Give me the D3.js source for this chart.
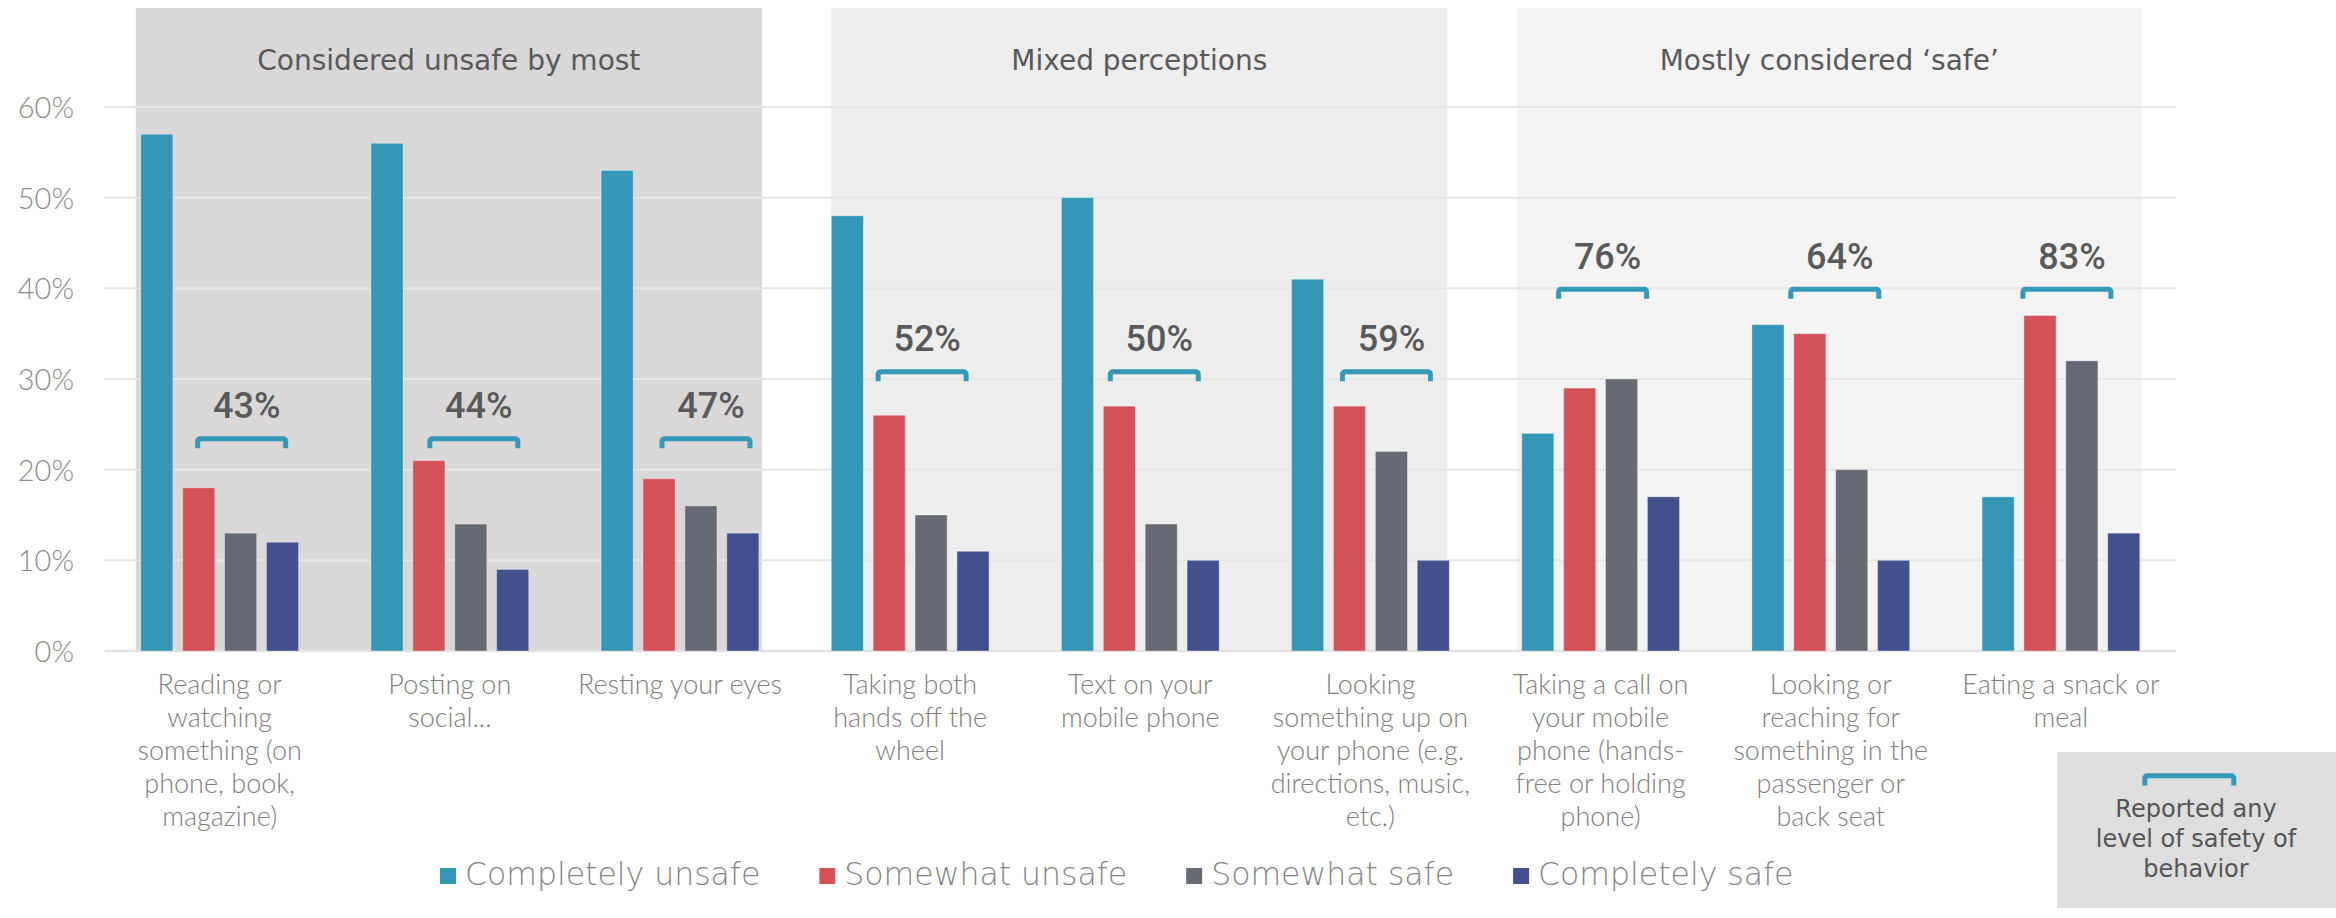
<!DOCTYPE html>
<html>
<head>
<meta charset="utf-8">
<script src="https://cdn.jsdelivr.net/npm/d3@7"></script>
<style>
  html, body { margin: 0; padding: 0; background: #ffffff; }
  svg { display: block; }
</style>
</head>
<body>
<svg id="chart" width="2336" height="918"></svg>
<script>
// ---------------- DATA ----------------
const categories = [
  "Reading or watching something (on phone, book, magazine)",
  "Posting on social...",
  "Resting your eyes",
  "Taking both hands off the wheel",
  "Text on your mobile phone",
  "Looking something up on your phone (e.g. directions, music, etc.)",
  "Taking a call on your mobile phone (hands-free or holding phone)",
  "Looking or reaching for something in the passenger or back seat",
  "Eating a snack or meal"
];
const categoryLines = [
  ["Reading or", "watching", "something (on", "phone, book,", "magazine)"],
  ["Posting on", "social..."],
  ["Resting your eyes"],
  ["Taking both", "hands off the", "wheel"],
  ["Text on your", "mobile phone"],
  ["Looking", "something up on", "your phone (e.g.", "directions, music,", "etc.)"],
  ["Taking a call on", "your mobile", "phone (hands-", "free or holding", "phone)"],
  ["Looking or", "reaching for", "something in the", "passenger or", "back seat"],
  ["Eating a snack or", "meal"]
];
const seriesNames = ["Completely unsafe", "Somewhat unsafe", "Somewhat safe", "Completely safe"];
const completelyUnsafe = [57, 56, 53, 48, 50, 41, 24, 36, 17];
const somewhatUnsafe   = [18, 21, 19, 26, 27, 27, 29, 35, 37];
const somewhatSafe     = [13, 14, 16, 15, 14, 22, 30, 20, 32];
const completelySafe   = [12,  9, 13, 11, 10, 10, 17, 10, 13];
const anySafety        = [43, 44, 47, 52, 50, 59, 76, 64, 83];
const bracketLevel     = [23.4, 23.4, 23.4, 30.8, 30.8, 30.8, 39.9, 39.9, 39.9];
const yTicks = [0, 10, 20, 30, 40, 50, 60];
const tickLabels = ["0%", "10%", "20%", "30%", "40%", "50%", "60%"];
const panelTitles = ["Considered unsafe by most", "Mixed perceptions", "Mostly considered \u2018safe\u2019"];
const panelCategories = [[0, 1, 2], [3, 4, 5], [6, 7, 8]];
const noteLines = ["Reported any", "level of safety of", "behavior"];

// ---------------- STYLE / LAYOUT ----------------
const colors = ["#3397b5", "#d35157", "#666a72", "#42518b"];
const panelFills = ["#d9d7d8", "#ededed", "#f3f3f3"];
const panelPadL = [5, 0, 5], panelPadR = [3, -2, 2];
const bracketShift = [22, 24, 26, 12, 14, 16, 2, 4, 6];
const bracketColor = "#3399b7";
const lightFont = "Lato, 'Open Sans', sans-serif";
const wideFont = "'DejaVu Sans', Verdana, sans-serif";

const W = 2336, H = 918;
const plotL = 104.6, plotR = 2176, yBase = 651, yTop = 107;

const svg = d3.select("#chart");
svg.append("rect").attr("width", W).attr("height", H).attr("fill", "#ffffff");

const x0 = d3.scaleBand().domain(d3.range(categories.length)).range([plotL, plotR]).paddingInner(0).paddingOuter(0);
const bw = x0.bandwidth();
const x1 = d3.scaleBand().domain(seriesNames).range([36.2, bw - 36.2]).paddingInner(0.234).paddingOuter(0);
const y = d3.scaleLinear().domain([0, 60]).range([yBase, yTop]);

const seriesValues = [completelyUnsafe, somewhatUnsafe, somewhatSafe, completelySafe];

// panels
panelCategories.forEach((cats, p) => {
  const left = x0(cats[0]) + x1(seriesNames[0]) - panelPadL[p];
  const right = x0(cats[cats.length - 1]) + x1(seriesNames[3]) + x1.bandwidth() + panelPadR[p];
  svg.append("rect")
    .attr("x", left).attr("y", 8)
    .attr("width", right - left).attr("height", yBase - 8)
    .attr("fill", panelFills[p]);
  svg.append("text")
    .attr("x", (left + right) / 2).attr("y", 70)
    .attr("text-anchor", "middle")
    .attr("font-family", wideFont)
    .attr("font-size", 28)
    .attr("fill", "#595959")
    .text(panelTitles[p]);
});

// gridlines
const gridG = svg.append("g");
gridG.selectAll("line").data(yTicks).join("line")
  .attr("x1", plotL).attr("x2", plotR)
  .attr("y1", d => y(d)).attr("y2", d => y(d))
  .attr("stroke", d => d === 0 ? "#e3e3e3" : "#e6e6e6")
  .attr("stroke-width", d => d === 0 ? 2.5 : 2);

// y axis labels
const yAxis = d3.axisLeft(y).tickValues(yTicks).tickFormat((d, i) => tickLabels[i]).tickSize(0).tickPadding(0);
const yg = svg.append("g").attr("transform", `translate(74,0)`).call(yAxis);
yg.select(".domain").remove();
yg.selectAll("text")
  .attr("font-family", lightFont)
  .attr("font-weight", 300)
  .attr("font-size", 29)
  .attr("fill", "#8c8c8c")
  .attr("dy", "0.36em");

// bars
const groups = svg.append("g").selectAll("g").data(categories.map((c, i) => i)).join("g")
  .attr("transform", i => `translate(${x0(i)},0)`);
groups.selectAll("rect").data(i => seriesNames.map((s, k) => ({ s, k, v: seriesValues[k][i] }))).join("rect")
  .attr("x", d => x1(d.s))
  .attr("y", d => y(d.v))
  .attr("width", x1.bandwidth())
  .attr("height", d => yBase - y(d.v))
  .attr("fill", d => colors[d.k])
  .attr("stroke", "rgba(255,255,255,0.35)")
  .attr("stroke-width", 1);

// brackets and percent labels
function bracketPath(cx, yc, halfW, legBottom) {
  return `M${cx - halfW},${legBottom} V${yc + 3} Q${cx - halfW},${yc} ${cx - halfW + 3},${yc} H${cx + halfW - 3} Q${cx + halfW},${yc} ${cx + halfW},${yc + 3} V${legBottom}`;
}
categories.forEach((c, i) => {
  const cx = x0(i) + bw / 2 + bracketShift[i];
  const yc = y(bracketLevel[i]);
  svg.append("path")
    .attr("d", bracketPath(cx, yc, 44, yc + 9.5))
    .attr("fill", "none")
    .attr("stroke", bracketColor)
    .attr("stroke-width", 5);
  svg.append("text")
    .attr("x", cx + 5).attr("y", yc - 20.5)
    .attr("text-anchor", "middle")
    .attr("font-family", "Roboto, sans-serif")
    .attr("font-weight", 500)
    .attr("font-size", 36)
    .attr("fill", "#595959")
    .text(anySafety[i] + "%");
});

// category labels
categories.forEach((c, i) => {
  const t = svg.append("text")
    .attr("text-anchor", "middle")
    .attr("font-family", lightFont)
    .attr("font-weight", 300)
    .attr("font-size", 27)
    .attr("fill", "#808080");
  categoryLines[i].forEach((line, j) => {
    t.append("tspan").attr("x", x0(i) + bw / 2).attr("y", 694 + j * 33).text(line);
  });
});

// legend
const legend = svg.append("g");
let lx = 440;
seriesNames.forEach((s, k) => {
  legend.append("rect").attr("x", lx).attr("y", 868).attr("width", 16).attr("height", 16).attr("fill", colors[k]);
  const t = legend.append("text")
    .attr("x", lx + 25).attr("y", 885)
    .attr("font-family", wideFont)
    .attr("font-weight", 200)
    .attr("font-size", 31.5)
    .attr("fill", "#858585")
    .text(s);
  lx = lx + 25 + t.node().getComputedTextLength() + 59;
});

// note box
svg.append("rect").attr("x", 2057).attr("y", 752).attr("width", W - 2057).attr("height", 156).attr("fill", "#dedede");
const nbx = 2189.3;
svg.append("path")
  .attr("d", bracketPath(nbx, 775.8, 44.5, 785.5))
  .attr("fill", "none").attr("stroke", bracketColor).attr("stroke-width", 5);
const nt = svg.append("text")
  .attr("text-anchor", "middle")
  .attr("font-family", wideFont)
  .attr("font-size", 24)
  .attr("fill", "#555555");
noteLines.forEach((l, j) => nt.append("tspan").attr("x", 2196).attr("y", 817 + j * 30).text(l));
</script>
</body>
</html>
